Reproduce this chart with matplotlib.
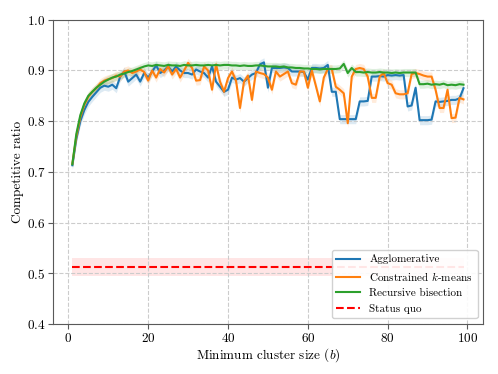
import numpy as np
import matplotlib.pyplot as plt

plt.rcParams['font.family'] = 'serif'
plt.rcParams['font.serif'] = ['cmr10']
plt.rcParams['mathtext.fontset'] = 'cm'
plt.rcParams['axes.formatter.use_mathtext'] = True

# minimum cluster size b = 1..99
sizes = list(range(1, 100))

agglomerative = [
    0.713, 0.765, 0.800, 0.822, 0.838, 0.848, 0.857, 0.866, 0.870, 0.868,
    0.872, 0.865, 0.888, 0.898, 0.878, 0.885, 0.892, 0.878, 0.895, 0.886,
    0.898, 0.910, 0.895, 0.900, 0.908, 0.898, 0.908, 0.900, 0.895, 0.895,
    0.892, 0.902, 0.898, 0.895, 0.886, 0.908, 0.878, 0.868, 0.858, 0.862,
    0.886, 0.882, 0.885, 0.878, 0.885, 0.892, 0.895, 0.912, 0.916, 0.866,
    0.905, 0.905, 0.905, 0.906, 0.905, 0.898, 0.898, 0.898, 0.897, 0.882,
    0.905, 0.905, 0.904, 0.905, 0.911, 0.858, 0.858, 0.804, 0.804, 0.804,
    0.804, 0.804, 0.839, 0.839, 0.840, 0.888, 0.888, 0.889, 0.888, 0.891,
    0.890, 0.891, 0.890, 0.891, 0.829, 0.831, 0.866, 0.802, 0.802, 0.802,
    0.803, 0.839, 0.838, 0.839, 0.840, 0.842, 0.842, 0.845, 0.865,
]

kmeans = [
    0.716, 0.770, 0.808, 0.832, 0.848, 0.858, 0.865, 0.875, 0.880, 0.883,
    0.885, 0.890, 0.888, 0.898, 0.900, 0.895, 0.898, 0.902, 0.897, 0.880,
    0.900, 0.886, 0.903, 0.896, 0.908, 0.892, 0.903, 0.886, 0.900, 0.915,
    0.905, 0.880, 0.881, 0.908, 0.900, 0.862, 0.912, 0.878, 0.858, 0.885,
    0.898, 0.880, 0.826, 0.878, 0.890, 0.842, 0.898, 0.895, 0.893, 0.886,
    0.862, 0.898, 0.888, 0.893, 0.898, 0.875, 0.872, 0.898, 0.898, 0.866,
    0.900, 0.870, 0.839, 0.886, 0.903, 0.903, 0.868, 0.862, 0.855, 0.796,
    0.888, 0.903, 0.905, 0.903, 0.888, 0.846, 0.846, 0.888, 0.895, 0.875,
    0.872, 0.855, 0.853, 0.853, 0.855, 0.893, 0.895, 0.893, 0.890, 0.888,
    0.888, 0.862, 0.826, 0.826, 0.862, 0.806, 0.807, 0.846, 0.843,
]

bisection = [
    0.715, 0.775, 0.812, 0.835, 0.850, 0.858, 0.866, 0.872, 0.878, 0.882,
    0.886, 0.888, 0.892, 0.894, 0.897, 0.899, 0.902, 0.905, 0.908, 0.910,
    0.909, 0.911, 0.910, 0.909, 0.911, 0.910, 0.910, 0.909, 0.911, 0.910,
    0.910, 0.911, 0.910, 0.910, 0.911, 0.910, 0.911, 0.910, 0.911, 0.911,
    0.910, 0.910, 0.909, 0.910, 0.909, 0.909, 0.910, 0.910, 0.909, 0.908,
    0.908, 0.908, 0.907, 0.908, 0.906, 0.906, 0.905, 0.905, 0.904, 0.904,
    0.903, 0.903, 0.902, 0.903, 0.903, 0.903, 0.903, 0.904, 0.913, 0.895,
    0.905, 0.897, 0.897, 0.896, 0.897, 0.896, 0.896, 0.897, 0.896, 0.896,
    0.895, 0.896, 0.895, 0.896, 0.896, 0.896, 0.896, 0.873, 0.873, 0.874,
    0.872, 0.873, 0.872, 0.874, 0.871, 0.872, 0.871, 0.873, 0.872,
]

# half-width of the shaded bands
spread_agg = 0.009
spread_km = 0.009
spread_bis = 0.008

status_quo = 0.512
status_quo_spread = 0.018

fig, ax = plt.subplots(figsize=(4.98, 3.74), dpi=100)
fig.subplots_adjust(left=0.106, right=0.970, bottom=0.134, top=0.947)

x = np.array(sizes)
series = [
    (agglomerative, spread_agg, 'tab:blue', 'Agglomerative'),
    (kmeans, spread_km, 'tab:orange', 'Constrained $k$-means'),
    (bisection, spread_bis, 'tab:green', 'Recursive bisection'),
]
for vals, sd, col, lab in series:
    v = np.array(vals)
    ax.fill_between(x, v - sd, v + sd, color=col, alpha=0.15, linewidth=0)
    ax.plot(x, v, color=col, lw=1.5, label=lab)

sq = np.full(len(x), status_quo)
ax.fill_between(x, sq - status_quo_spread, sq + status_quo_spread,
                color='red', alpha=0.1, linewidth=0)
ax.plot(x, sq, color='red', ls='--', lw=1.5, label='Status quo')

ax.set_ylim(0.4, 1.0)
ax.set_xlabel('Minimum cluster size ($b$)', fontsize=9.5, labelpad=1)
ax.set_ylabel('Competitive ratio', fontsize=9.5, labelpad=2)
ax.grid(True, ls='--', color='0.8', lw=0.8)
for s in ax.spines.values():
    s.set_color('0.35')
ax.tick_params(colors='0.35', labelcolor='black', labelsize=9.5, pad=2)
ax.legend(loc='lower right', fontsize=8, framealpha=0.9, handlelength=2.2)

fig.savefig('out.png', dpi=100)
